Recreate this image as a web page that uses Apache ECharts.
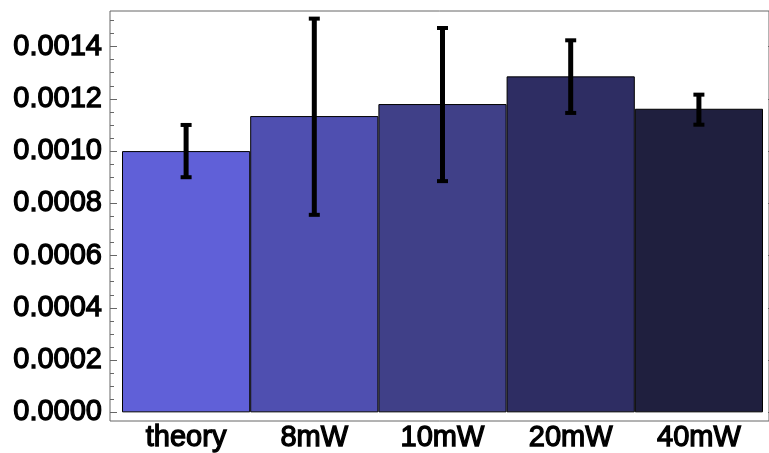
<!DOCTYPE html>
<html>
<head>
<meta charset="utf-8">
<script src="https://cdn.jsdelivr.net/npm/echarts@6/dist/echarts.min.js"></script>
<style>
html,body{margin:0;padding:0;background:#fff;}
#chart{width:769px;height:453px;}
</style>
</head>
<body>
<div id="chart"></div>
<script>
// ---- data ----
var categories = ['theory', '8mW', '10mW', '20mW', '40mW'];
var values     = [0.00100, 0.001134, 0.001180, 0.001286, 0.001162];
var errLow     = [0.00090, 0.000756, 0.000885, 0.001146, 0.001101];
var errHigh    = [0.00110, 0.001507, 0.001471, 0.001424, 0.001216];
var barColors  = ['#6060D8', '#4F4FB0', '#404088', '#2E2D63', '#1F1F3E'];
var majorTicks = [0, 0.0002, 0.0004, 0.0006, 0.0008, 0.0010, 0.0012, 0.0014];
var tickLabels = ['0.0000', '0.0002', '0.0004', '0.0006', '0.0008', '0.0010', '0.0012', '0.0014'];
var yMin = 0, yMax = 0.0015, minorStep = 0.00005;

var FONT = "'Liberation Sans', Arial, sans-serif";
var frameColor = '#666666';

var chart = echarts.init(document.getElementById('chart'), null, {renderer: 'canvas'});

var barData = values.map(function (v, i) {
  return {value: v, itemStyle: {color: barColors[i]}};
});
var errData = categories.map(function (c, i) { return [i, errLow[i], errHigh[i]]; });

var labelStyle = {
  fontFamily: FONT, fontSize: 29, color: '#000',
  textBorderColor: '#000', textBorderWidth: 1.3
};

var option = {
  animation: false,
  grid: [
    {left: 110, right: -6, top: 11, bottom: 32, show: true, borderColor: frameColor, borderWidth: 1, backgroundColor: 'transparent'},
    {left: 122, right: 6, top: 20.45, bottom: 39.7}
  ],
  xAxis: [
    {gridIndex: 0, type: 'value', show: false, min: 0, max: 1},
    {gridIndex: 1, type: 'category', data: categories, boundaryGap: true,
     axisLine: {show: false}, axisTick: {show: false},
     axisLabel: Object.assign({margin: 11, interval: 0}, labelStyle)}
  ],
  yAxis: [
    {gridIndex: 0, type: 'value', show: false, min: 0, max: 1},
    {gridIndex: 1, type: 'value', position: 'left', offset: 12, min: yMin, max: yMax,
     splitLine: {show: false},
     axisLine: {show: false},
     axisTick: {show: true, inside: true, length: 7, customValues: majorTicks, lineStyle: {color: frameColor, width: 1}},
     axisLabel: Object.assign({margin: 8, customValues: majorTicks,
       formatter: function (v) { var k = -1; for (var j = 0; j < majorTicks.length; j++) if (Math.abs(majorTicks[j]-v) < 1e-9) k = j; return k >= 0 ? tickLabels[k] : ''; }}, labelStyle)},
    {gridIndex: 1, type: 'value', position: 'left', offset: 12, min: yMin, max: yMax, interval: minorStep,
     splitLine: {show: false}, axisLine: {show: false}, axisLabel: {show: false},
     axisTick: {show: true, inside: true, length: 4, lineStyle: {color: frameColor, width: 1}}},
    {gridIndex: 1, type: 'value', position: 'right', offset: 12, min: yMin, max: yMax,
     splitLine: {show: false}, axisLine: {show: false}, axisLabel: {show: false},
     axisTick: {show: true, inside: true, length: 7, customValues: majorTicks, lineStyle: {color: frameColor, width: 1}}},
    {gridIndex: 1, type: 'value', position: 'right', offset: 12, min: yMin, max: yMax, interval: minorStep,
     splitLine: {show: false}, axisLine: {show: false}, axisLabel: {show: false},
     axisTick: {show: true, inside: true, length: 4, lineStyle: {color: frameColor, width: 1}}}
  ],
  series: [
    {type: 'bar', xAxisIndex: 1, yAxisIndex: 1, data: barData,
     barWidth: '100%', barCategoryGap: '0%',
     itemStyle: {borderColor: '#000', borderWidth: 1}},
    {type: 'custom', xAxisIndex: 1, yAxisIndex: 1, data: errData, z: 10,
     renderItem: function (params, api) {
       var x = api.value(0);
       var lo = api.coord([x, api.value(1)]);
       var hi = api.coord([x, api.value(2)]);
       var cw = 5.5;
       return {type: 'group', children: [
         {type: 'line', shape: {x1: lo[0], y1: lo[1], x2: hi[0], y2: hi[1]}, style: {stroke: '#000', lineWidth: 5}},
         {type: 'line', shape: {x1: hi[0]-cw, y1: hi[1], x2: hi[0]+cw, y2: hi[1]}, style: {stroke: '#000', lineWidth: 4}},
         {type: 'line', shape: {x1: lo[0]-cw, y1: lo[1], x2: lo[0]+cw, y2: lo[1]}, style: {stroke: '#000', lineWidth: 4}}
       ]};
     }}
  ]
};
chart.setOption(option);
</script>
</body>
</html>
